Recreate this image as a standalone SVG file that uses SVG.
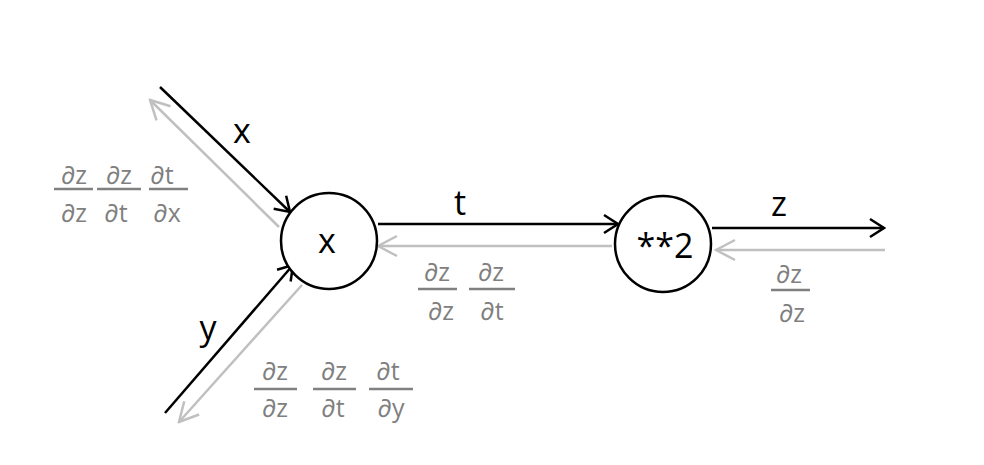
<svg xmlns="http://www.w3.org/2000/svg" width="984" height="465" viewBox="0 0 984 465">
<style>
.lbl{font-family:"Open Sans","Noto Sans","Liberation Sans",sans-serif;font-size:34px;fill:#000;text-anchor:middle}
.fr{font-family:"Open Sans","Noto Sans","Liberation Sans",sans-serif;font-size:25px;fill:#808080;text-anchor:middle}
.bar{stroke:#808080;stroke-width:2.5}
.fw{stroke:#000;stroke-width:2.5;fill:none}
.bw{stroke:#c0c0c0;stroke-width:2.5;fill:none}
.node{fill:#fff;stroke:#000;stroke-width:2.5}
</style>
<defs>
<marker id="ab" markerUnits="userSpaceOnUse" viewBox="-18 -13 20 26" markerWidth="20" markerHeight="26" refX="0" refY="0" orient="auto">
<path d="M-14,-9 L0,0 L-14,9" fill="none" stroke="#000" stroke-width="2.5"/>
</marker>
<marker id="ag" markerUnits="userSpaceOnUse" viewBox="-22 -13 24 26" markerWidth="24" markerHeight="26" refX="0" refY="0" orient="auto">
<path d="M-19,-10 L0,0 L-19,10" fill="none" stroke="#c0c0c0" stroke-width="2.5"/>
</marker>
</defs>
<g id="connectors">
<line class="fw" x1="160" y1="87" x2="290" y2="212" marker-end="url(#ab)"/>
<line class="bw" x1="279" y1="227" x2="150" y2="100" marker-end="url(#ag)"/>
<line class="fw" x1="165" y1="413" x2="293" y2="265" marker-end="url(#ab)"/>
<line class="bw" x1="302" y1="285" x2="179" y2="422" marker-end="url(#ag)"/>
<line class="fw" x1="378" y1="224" x2="618" y2="224" marker-end="url(#ab)"/>
<line class="bw" x1="612" y1="246" x2="378" y2="246" marker-end="url(#ag)"/>
<line class="fw" x1="712" y1="228" x2="884" y2="228" marker-end="url(#ab)"/>
<line class="bw" x1="885" y1="250" x2="716" y2="250" marker-end="url(#ag)"/>
<text class="lbl" x="242" y="143">x</text>
<text class="lbl" x="208" y="340">y</text>
<text class="lbl" x="460" y="215">t</text>
<text class="lbl" x="779" y="216">z</text>
</g>
<g id="node-mul">
<circle class="node" cx="329" cy="241" r="48"/>
<text class="lbl" x="327" y="253">x</text>
</g>
<g id="node-pow">
<circle class="node" cx="663" cy="244" r="48"/>
<text class="lbl" x="665" y="258">**2</text>
</g>
<g id="grad-x">
<text class="fr" x="74" y="184">∂z</text><line class="bar" x1="54" y1="189" x2="93" y2="189"/><text class="fr" x="74" y="222">∂z</text>
<text class="fr" x="119" y="184">∂z</text><line class="bar" x1="97" y1="189" x2="141" y2="189"/><text class="fr" x="116" y="222">∂t</text>
<text class="fr" x="162" y="184">∂t</text><line class="bar" x1="149" y1="189" x2="188" y2="189"/><text class="fr" x="167" y="222">∂x</text>
</g>
<g id="grad-t">
<text class="fr" x="437" y="281">∂z</text><line class="bar" x1="418" y1="289" x2="457" y2="289"/><text class="fr" x="441" y="320">∂z</text>
<text class="fr" x="491" y="281">∂z</text><line class="bar" x1="469" y1="289" x2="515" y2="289"/><text class="fr" x="492" y="320">∂t</text>
</g>
<g id="grad-z">
<text class="fr" x="789" y="283">∂z</text><line class="bar" x1="771" y1="290" x2="810" y2="290"/><text class="fr" x="792" y="322">∂z</text>
</g>
<g id="grad-y">
<text class="fr" x="275" y="380">∂z</text><line class="bar" x1="254" y1="389" x2="297" y2="389"/><text class="fr" x="275" y="417">∂z</text>
<text class="fr" x="334" y="380">∂z</text><line class="bar" x1="313" y1="389" x2="356" y2="389"/><text class="fr" x="333" y="417">∂t</text>
<text class="fr" x="388" y="380">∂t</text><line class="bar" x1="369" y1="389" x2="413" y2="389"/><text class="fr" x="391" y="417">∂y</text>
</g>
</svg>
